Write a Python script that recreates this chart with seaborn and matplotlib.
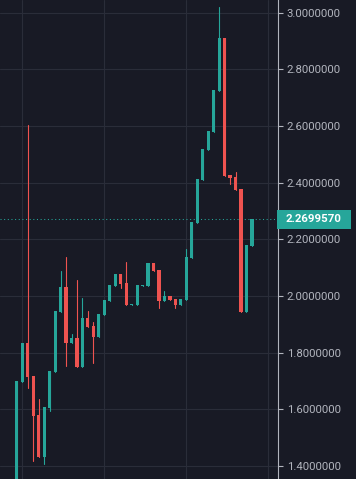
import numpy as np
import pandas as pd
import seaborn as sns
import matplotlib.pyplot as plt
from matplotlib.patches import Rectangle
import matplotlib.transforms as mtransforms

# candle data (index = bar number)
opens = [1.300, 1.698, 1.834, 1.718, 1.580, 1.433, 1.606, 1.733, 1.945, 2.032,
         1.835, 1.852, 1.751, 1.922, 1.894, 1.857, 1.933, 1.982, 2.035, 2.078,
         2.046, 1.969, 1.969, 2.037, 2.036, 2.116, 2.092, 1.983, 2.000, 1.989,
         1.968, 1.987, 2.135, 2.259, 2.410, 2.516, 2.580, 2.724, 2.910, 2.427,
         2.420, 2.377, 1.945, 2.177]
closes = [1.700, 1.834, 1.715, 1.578, 1.433, 1.609, 1.735, 1.947, 2.032, 1.835,
          1.852, 1.751, 1.922, 1.891, 1.855, 1.937, 1.986, 2.039, 2.078, 2.043,
          1.969, 1.972, 2.039, 2.0385, 2.116, 2.089, 1.983, 2.000, 1.987, 1.968,
          1.989, 2.138, 2.261, 2.413, 2.519, 2.582, 2.727, 2.910, 2.424, 2.417,
          2.374, 1.945, 2.180, 2.269957]
highs = [1.700, 1.834, 2.603, 1.718, 1.637, 1.609, 1.735, 1.947, 2.088, 2.138,
         1.866, 2.056, 1.993, 1.947, 1.908, 1.937, 1.986, 2.039, 2.078, 2.078,
         2.120, 1.972, 2.039, 2.0385, 2.116, 2.116, 2.092, 2.018, 2.000, 1.989,
         1.989, 2.166, 2.261, 2.413, 2.519, 2.582, 2.727, 3.019, 2.910, 2.427,
         2.437, 2.377, 2.180, 2.269957]
lows = [1.300, 1.698, 1.677, 1.419, 1.433, 1.409, 1.594, 1.733, 1.945, 1.754,
        1.835, 1.751, 1.751, 1.891, 1.765, 1.857, 1.933, 1.982, 2.035, 2.029,
        1.969, 1.969, 1.969, 2.037, 2.036, 2.089, 1.959, 1.983, 1.987, 1.959,
        1.968, 1.987, 2.135, 2.259, 2.410, 2.516, 2.580, 2.724, 2.424, 2.396,
        2.374, 1.945, 1.945, 2.177]
last_price = 2.2699570
price_ticks = [1.4, 1.6, 1.8, 2.0, 2.2, 2.4, 2.6, 2.8, 3.0]
time_grid = [1, 16, 31, 46]

UP = '#26a69a'
DOWN = '#ef5350'
BG = '#181a25'
GRID = '#2a2d39'
TXT = '#b2b5be'

df = pd.DataFrame({'open': opens, 'high': highs, 'low': lows, 'close': closes})
df['i'] = np.arange(len(df))
df['dir'] = np.where(df['close'] >= df['open'], 'up', 'down')

sns.set_style('dark', rc={'axes.facecolor': BG, 'figure.facecolor': BG,
                          'grid.color': GRID, 'axes.edgecolor': TXT})
plt.rcParams['font.family'] = ['Roboto', 'DejaVu Sans']

fig = plt.figure(figsize=(3.56, 4.79), dpi=100)
ax = fig.add_axes([0, 0, 278 / 356, 1])

# wicks
wicks = pd.melt(df, id_vars=['i', 'dir'], value_vars=['low', 'high'], value_name='price')
sns.lineplot(data=wicks, x='i', y='price', hue='dir', units='i', estimator=None,
             sort=False, palette={'up': UP, 'down': DOWN}, linewidth=0.8,
             legend=False, ax=ax)

# bodies
bottoms = np.minimum(df['open'], df['close'])
heights = np.maximum((df['close'] - df['open']).abs(), 0.0035)
colors = [UP if d == 'up' else DOWN for d in df['dir']]
ax.bar(df['i'], heights, bottom=bottoms, width=0.58, color=colors, linewidth=0, zorder=3)

# last price line
ax.axhline(last_price, color=UP, linewidth=0.75, linestyle=(0, (1, 2.5)), zorder=2)

ax.set_xlim(-3.08, 47.77)
ax.set_ylim(1.3545, 3.0441)
ax.set_xlabel('')
ax.set_ylabel('')

ax.set_xticks(time_grid)
ax.set_xticklabels([])
ax.tick_params(axis='x', length=0)
ax.set_yticks(price_ticks)
ax.yaxis.tick_right()
ax.yaxis.set_major_formatter(lambda v, p: f'{v:.7f}')
ax.tick_params(axis='y', length=3.6, width=0.8, color=TXT, labelcolor=TXT,
               labelsize=8.2, pad=2.6, right=True, left=False)
ax.grid(True, color=GRID, linewidth=0.8)
ax.set_axisbelow(True)
for side in ['top', 'left', 'bottom']:
    ax.spines[side].set_visible(False)
ax.spines['right'].set_color(TXT)
ax.spines['right'].set_linewidth(0.8)

# last price label on the axis
trans = mtransforms.blended_transform_factory(ax.transAxes, ax.transData)
box_h = 19 / 283.5
ax.add_patch(Rectangle((277 / 278, last_price - box_h / 2), 74 / 278, box_h,
                       transform=trans, facecolor=UP, edgecolor='none',
                       clip_on=False, zorder=6))
ax.text(285.5 / 278, last_price, f'{last_price:.7f}', transform=trans,
        ha='left', va='center', color='white', fontsize=8.2, fontweight='bold',
        zorder=7, clip_on=False)

fig.savefig('out.png', dpi=100, facecolor=BG)
